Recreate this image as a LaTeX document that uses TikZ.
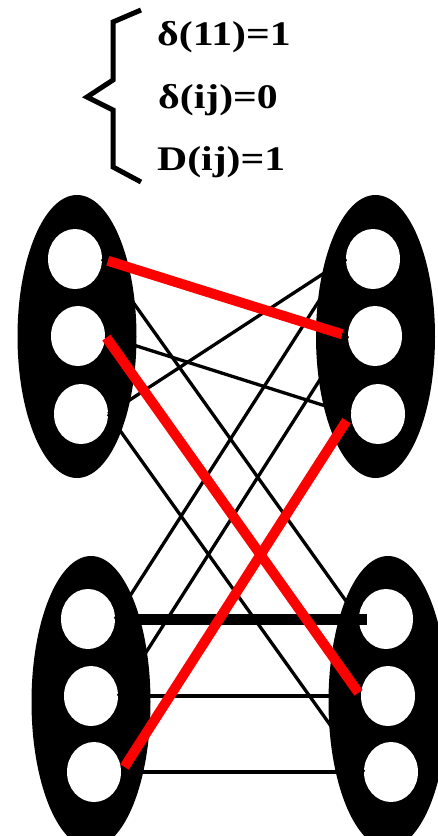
\documentclass[tikz,border=0pt]{standalone}
\usepackage{fontspec}
\setmainfont{Liberation Serif}
\usetikzlibrary{shapes.geometric}
\newcommand{\wide}[1]{\scalebox{1.21}[1]{#1}}

\begin{document}
\begin{tikzpicture}[x=1pt,y=-1pt,
  grp/.style={ellipse,fill=black,inner sep=0pt,minimum width=119pt,minimum height=283pt},
  hole/.style={ellipse,fill=white,inner sep=0pt,minimum width=54pt,minimum height=60pt},
  link/.style={line width=3.3pt},
  hit/.style={red,line width=10pt},
  eqn/.style={anchor=base west,inner sep=0pt,font=\fontsize{34.5}{34.5}\selectfont\bfseries}]
\useasboundingbox (0,0) rectangle (437,836);
\draw[line width=5pt,miter limit=10] (141,10) -- (113,22) -- (113,80) -- (87,97) -- (113,110) -- (113,167) -- (141,182);
\node[eqn] (e1) at (157,45) {\wide{δ(11)=1}};
\node[eqn] (e2) at (158,108) {\wide{δ(ij)=0}};
\node[eqn] (e3) at (157,170) {\wide{D(ij)=1}};
\node[grp] (tl) at (77,336.5) {};
\node[grp] (tr) at (375.5,336.5) {};
\node[grp,minimum height=292pt] (bl) at (91,702) {};
\node[grp,minimum height=292pt] (br) at (388,702) {};
\node[hole] (tl1) at (75,259) {};
\node[hole] (tl2) at (78,336) {};
\node[hole] (tl3) at (81,414) {};
\node[hole] (tr1) at (373,259) {};
\node[hole] (tr2) at (375,336) {};
\node[hole] (tr3) at (378,414) {};
\node[hole] (bl1) at (88,619) {};
\node[hole] (bl2) at (91,696) {};
\node[hole] (bl3) at (94,772) {};
\node[hole] (br1) at (386,619) {};
\node[hole] (br2) at (388,696) {};
\node[hole] (br3) at (391,772) {};
\draw[link] (tl3.east) -- (tr1.west);
\draw[link] (tl2.east) -- (tr3.west);
\draw[link] (tl1.east) -- (br1.west);
\draw[link] (tr1.west) -- (bl1.east);
\draw[link] (tl3.east) -- (br3.west);
\draw[link] (tr2.west) -- (bl2.east);
\draw[link] (bl2.east) -- (br2.west);
\draw[link] (bl3.east) -- (br3.west);
\draw[line width=11pt,shorten >=-8pt] (bl1.east) -- (br1.west);
\draw[hit,shorten <=6pt,shorten >=6pt] (tl1.east) -- (tr2.west);
\draw[hit,shorten <=2pt,shorten >=4pt] (tl2.east) -- (br2.west);
\draw[hit,shorten <=8pt,shorten >=6pt] (tr3.west) -- (bl3.east);
\end{tikzpicture}
\end{document}
